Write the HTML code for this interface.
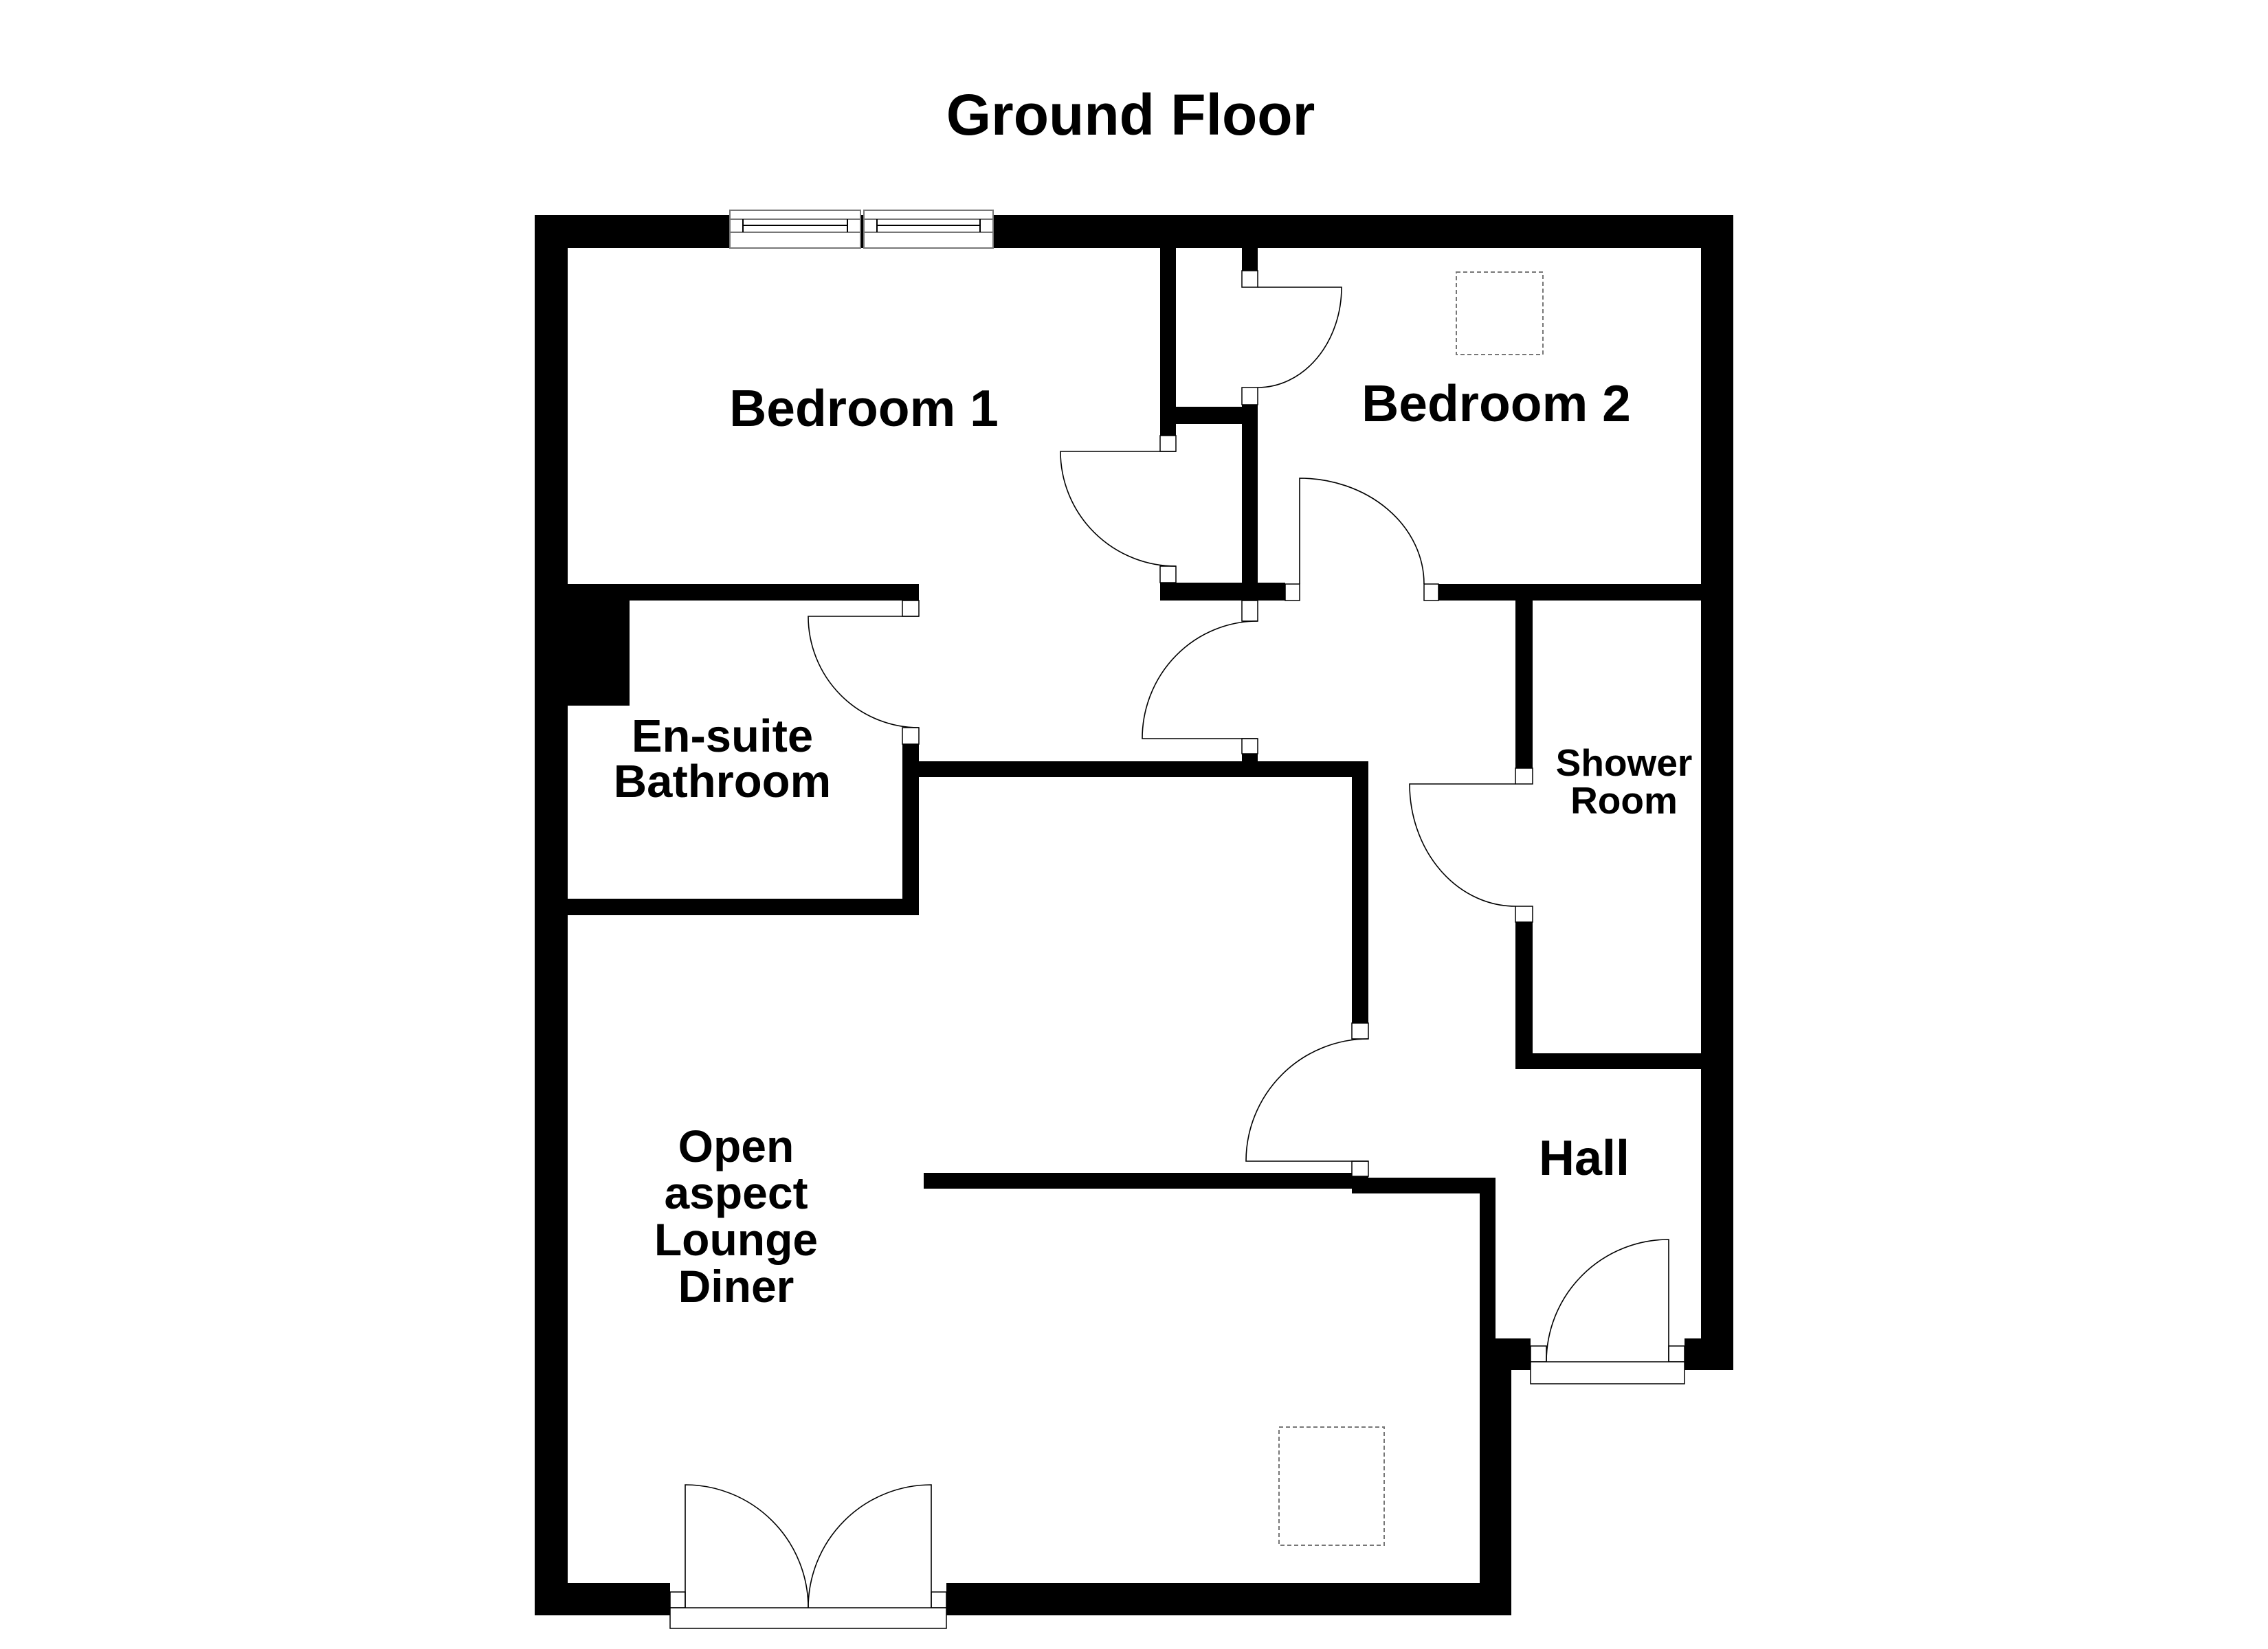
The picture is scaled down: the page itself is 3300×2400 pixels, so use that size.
<!DOCTYPE html>
<html><head><meta charset="utf-8"><style>
html,body{margin:0;padding:0;background:#fff;}
svg{display:block;}
text{font-family:"Liberation Sans",Arial,sans-serif;font-weight:bold;fill:#000;text-anchor:middle;}
</style></head><body>
<svg width="3300" height="2400" viewBox="0 0 3300 2400" xmlns="http://www.w3.org/2000/svg">
<rect width="3300" height="2400" fill="#fff"/>
<g fill="#000">
<rect x="778" y="313" width="1744" height="48"/>
<rect x="778" y="313" width="48" height="2038"/>
<rect x="2475" y="313" width="47" height="1681"/>
<rect x="778" y="2304" width="197" height="47"/>
<rect x="1377" y="2304" width="822" height="47"/>
<rect x="2153" y="1994" width="46" height="357"/>
<rect x="2153" y="1714" width="23" height="280"/>
<rect x="2153" y="1948" width="74" height="46"/>
<rect x="2451" y="1948" width="71" height="46"/>
<rect x="1688" y="361" width="23" height="273"/>
<rect x="1711" y="592" width="96" height="25"/>
<rect x="1807" y="361" width="23" height="33"/>
<rect x="1807" y="589" width="23" height="285"/>
<rect x="826" y="850" width="511" height="24"/>
<rect x="1688" y="848" width="182" height="26"/>
<rect x="2093" y="850" width="382" height="24"/>
<rect x="826" y="874" width="90" height="153"/>
<rect x="1313" y="1083" width="24" height="249"/>
<rect x="826" y="1308" width="511" height="24"/>
<rect x="1337" y="1108" width="654" height="23"/>
<rect x="1807" y="1097" width="23" height="11"/>
<rect x="1967" y="1108" width="24" height="381"/>
<rect x="2205" y="874" width="25" height="244"/>
<rect x="2205" y="1342" width="25" height="214"/>
<rect x="2205" y="1533" width="270" height="23"/>
<rect x="1344" y="1707" width="623" height="23"/>
<rect x="1967" y="1712" width="24" height="25"/>
<rect x="1967" y="1714" width="209" height="23"/>
</g>
<g fill="#fff" stroke="#777" stroke-width="2">
<rect x="1062" y="306" width="190" height="55"/>
<rect x="1257" y="306" width="188" height="55"/>
<line x1="1062" y1="319" x2="1252" y2="319"/><line x1="1062" y1="338" x2="1252" y2="338"/>
<line x1="1257" y1="319" x2="1445" y2="319"/><line x1="1257" y1="338" x2="1445" y2="338"/>
</g>
<g stroke="#000" stroke-width="2" fill="none">
<line x1="1081" y1="328" x2="1233" y2="328"/><line x1="1081" y1="319" x2="1081" y2="338"/><line x1="1233" y1="319" x2="1233" y2="338"/>
<line x1="1276" y1="328" x2="1426" y2="328"/><line x1="1276" y1="319" x2="1276" y2="338"/><line x1="1426" y1="319" x2="1426" y2="338"/>
</g>
<g fill="#fff" stroke="#000" stroke-width="1.5">
<rect x="1688" y="634" width="23" height="23"/>
<rect x="1688" y="824" width="23" height="24"/>
<rect x="1807" y="394" width="23" height="24"/>
<rect x="1807" y="564" width="23" height="25"/>
<rect x="1870" y="850" width="21" height="24"/>
<rect x="2072" y="850" width="21" height="24"/>
<rect x="1313" y="874" width="24" height="23"/>
<rect x="1313" y="1059" width="24" height="24"/>
<rect x="1807" y="874" width="23" height="30"/>
<rect x="1807" y="1075" width="23" height="22"/>
<rect x="2205" y="1118" width="25" height="23"/>
<rect x="2205" y="1319" width="25" height="23"/>
<rect x="1967" y="1489" width="24" height="23"/>
<rect x="1967" y="1690" width="24" height="22"/>
<rect x="2227" y="1959" width="23" height="23"/>
<rect x="2428" y="1959" width="23" height="23"/>
<rect x="2227" y="1982" width="224" height="32"/>
<rect x="975" y="2317" width="22" height="23"/>
<rect x="1355" y="2317" width="22" height="23"/>
<rect x="975" y="2340" width="402" height="30"/>
</g>
<g stroke="#000" stroke-width="1.6" fill="none">
<path d="M1711,657 L1543,657 A168,167 0 0,0 1711,824"/>
<path d="M1830,418 L1952,418 A122,146 0 0,1 1830,564"/>
<path d="M1891,850 L1891,696 A181,154 0 0,1 2072,850"/>
<path d="M1337,897 L1176,897 A161,162 0 0,0 1337,1059"/>
<path d="M1830,1075 L1662,1075 A168,171 0 0,1 1830,904"/>
<path d="M2205,1141 L2051,1141 A154,178 0 0,0 2205,1319"/>
<path d="M1991,1690 L1813,1690 A178,178 0 0,1 1991,1512"/>
<path d="M2428,1982 L2428,1804 A178,178 0 0,0 2250,1982"/>
<path d="M997,2340 L997,2161 A179,179 0 0,1 1176,2340"/>
<path d="M1355,2340 L1355,2161 A179,179 0 0,0 1176,2340"/>
</g>
<g fill="none" stroke="#777" stroke-width="2" stroke-dasharray="6,4">
<rect x="2119" y="396" width="126" height="120"/>
<rect x="1861" y="2077" width="153" height="172"/>
</g>
<text x="1645" y="196" font-size="84">Ground Floor</text>
<text x="1257" y="620" font-size="75">Bedroom 1</text>
<text x="2177" y="613" font-size="75">Bedroom 2</text>
<text x="1051" y="1094" font-size="67">En-suite</text>
<text x="1051" y="1160" font-size="67">Bathroom</text>
<text x="2363" y="1129" font-size="55">Shower</text>
<text x="2363" y="1184" font-size="55">Room</text>
<text x="2305" y="1710" font-size="72">Hall</text>
<text x="1071" y="1691" font-size="66">Open</text>
<text x="1071" y="1759" font-size="66">aspect</text>
<text x="1071" y="1827" font-size="66">Lounge</text>
<text x="1071" y="1895" font-size="66">Diner</text>
</svg>
</body></html>
